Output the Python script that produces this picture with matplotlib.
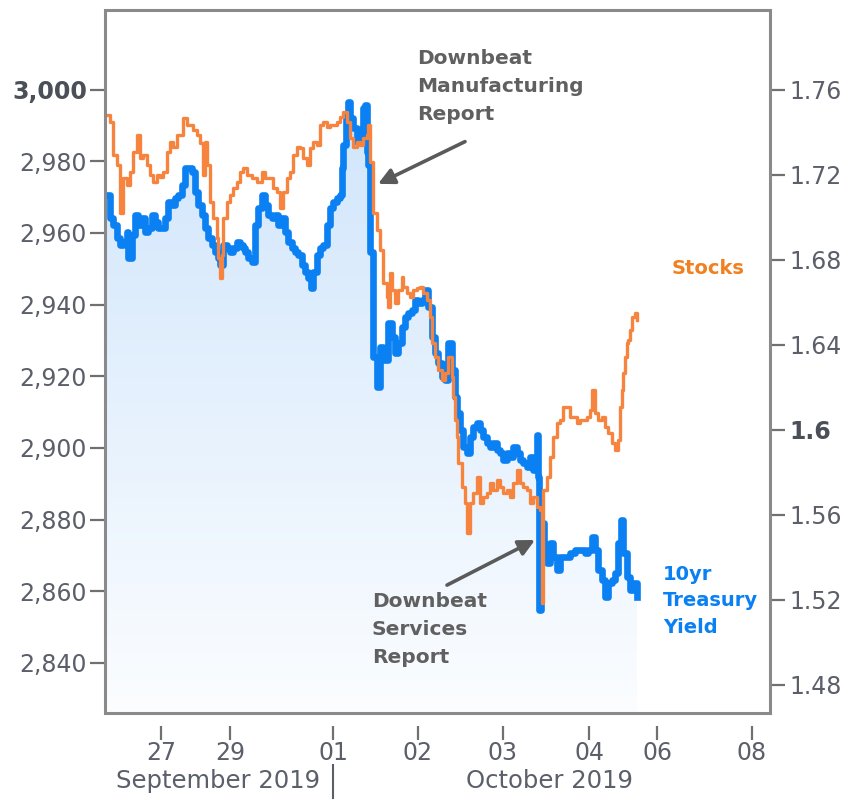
import numpy as np
import matplotlib
matplotlib.use("Agg")
import matplotlib.pyplot as plt
from matplotlib import font_manager
from matplotlib.patches import Rectangle
from matplotlib.lines import Line2D

# time axis in chart units (weekends squeezed out like the original)
tick_pos = [5.6, 12.5, 22.8, 31.3, 39.8, 48.4, 55.2, 64.7]
tick_labels = ['27', '29', '01', '02', '03', '04', '06', '08']

# S&P 500 (left axis)
stocks_t = [0.17, 0.5, 0.83, 1.17, 1.5, 1.83, 2.17, 2.5, 2.83, 3.17, 3.5, 3.83, 4.17, 4.5, 4.83,
            5.17, 5.5, 5.83, 6.17, 6.5, 6.83, 7.17, 7.5, 7.83, 8.17, 8.5, 8.83, 9.17, 9.5, 9.83,
            10.0, 10.17, 10.5, 10.83, 11.17, 11.33, 11.5, 11.67, 11.83, 12.17, 12.5, 12.83, 13.17,
            13.5, 13.83, 14.17, 14.67, 15.17, 15.67, 16.0, 16.5, 16.83, 17.17, 17.5, 17.83, 18.17,
            18.5, 18.83, 19.17, 19.5, 19.83, 20.17, 20.5, 20.83, 21.17, 21.5, 21.83, 22.17, 22.5,
            22.83, 23.17, 23.5, 23.83, 24.17, 24.5, 24.83, 25.17, 25.5, 25.83, 26.17, 26.33, 26.5,
            26.83, 27.17, 27.5, 27.83, 28.17, 28.33, 28.5, 28.67, 29.0, 29.33, 29.67, 29.83, 30.17,
            30.5, 30.83, 31.17, 31.5, 31.83, 32.17, 32.5, 32.67, 33.0, 33.33, 33.67, 34.0, 34.33,
            34.67, 34.83, 35.0, 35.17, 35.33, 35.67, 36.0, 36.23, 36.5, 36.83, 37.17, 37.5, 37.83,
            38.17, 38.5, 38.83, 39.17, 39.5, 39.83, 40.17, 40.5, 40.83, 41.17, 41.5, 41.83, 42.17,
            42.5, 42.83, 43.17, 43.5, 43.67, 43.83, 44.17, 44.5, 44.83, 45.17, 45.5, 45.83, 46.17,
            46.5, 46.83, 47.17, 47.5, 47.83, 48.17, 48.5, 48.73, 49.0, 49.33, 49.67, 50.0, 50.33,
            50.67, 51.0, 51.33, 51.5, 51.67, 51.83, 52.0, 52.17, 52.33, 52.5, 52.67, 53.0, 53.17]
stocks = [2993.0, 2991.1, 2981.8, 2979.1, 2965.6, 2975.4, 2973.5, 2977.1, 2982.7, 2987.4, 2981.0,
          2981.8, 2979.1, 2976.3, 2974.3, 2976.3, 2975.7, 2977.1, 2982.7, 2985.5, 2984.1, 2987.4,
          2987.4, 2992.2, 2990.2, 2990.2, 2988.8, 2987.4, 2985.2, 2976.3, 2985.5, 2979.1, 2968.7,
          2964.3, 2958.7, 2953.1, 2947.5, 2953.9, 2964.3, 2968.7, 2970.7, 2972.6, 2974.3, 2977.1,
          2978.2, 2976.3, 2975.4, 2974.3, 2977.1, 2975.4, 2975.4, 2972.6, 2971.5, 2967.0, 2971.5,
          2975.4, 2977.1, 2981.8, 2984.1, 2983.8, 2981.0, 2979.1, 2983.8, 2985.5, 2984.6, 2990.2,
          2991.1, 2989.7, 2990.2, 2990.2, 2991.1, 2992.5, 2993.9, 2991.1, 2986.6, 2984.1, 2985.5,
          2984.6, 2986.6, 2987.4, 2990.2, 2979.9, 2965.6, 2960.9, 2955.3, 2946.1, 2942.2, 2939.4,
          2948.9, 2944.1, 2940.5, 2944.1, 2947.8, 2945.0, 2943.3, 2942.2, 2944.1, 2944.7, 2945.0,
          2943.3, 2941.3, 2936.6, 2929.3, 2925.4, 2921.8, 2919.0, 2921.0, 2925.4, 2919.8, 2914.3,
          2907.8, 2903.1, 2895.8, 2889.1, 2884.6, 2876.3, 2884.6, 2887.4, 2891.9, 2884.6, 2886.3,
          2887.4, 2890.2, 2888.3, 2891.1, 2889.1, 2887.4, 2888.3, 2886.3, 2890.2, 2893.9, 2890.2,
          2889.1, 2888.3, 2884.6, 2886.3, 2883.5, 2882.7, 2856.7, 2888.3, 2891.9, 2897.5, 2903.1,
          2907.0, 2907.8, 2911.5, 2911.5, 2908.7, 2908.7, 2907.0, 2907.8, 2907.8, 2908.7, 2910.6,
          2916.2, 2909.8, 2907.8, 2908.7, 2905.9, 2904.2, 2901.4, 2899.5, 2902.2, 2911.5, 2916.2,
          2921.0, 2925.4, 2929.3, 2930.2, 2933.0, 2936.6, 2937.7, 2935.8]

# 10yr treasury yield (right axis)
yield_t = [0.17, 0.5, 0.83, 1.17, 1.5, 1.83, 2.17, 2.33, 2.67, 3.0, 3.33, 3.67, 4.0, 4.33, 4.67,
           5.0, 5.33, 5.67, 6.0, 6.33, 6.67, 7.0, 7.33, 7.67, 8.0, 8.33, 8.67, 9.0, 9.33, 9.67,
           10.0, 10.33, 10.67, 11.0, 11.33, 11.5, 11.83, 12.17, 12.5, 12.83, 13.17, 13.5, 13.83,
           14.0, 14.33, 14.67, 15.0, 15.33, 15.67, 16.0, 16.33, 16.67, 17.0, 17.33, 17.67, 18.0,
           18.33, 18.67, 19.0, 19.33, 19.67, 20.0, 20.33, 20.57, 20.83, 21.17, 21.5, 21.83, 22.17,
           22.5, 22.83, 23.17, 23.5, 23.67, 23.83, 24.1, 24.27, 24.5, 24.83, 25.17, 25.5, 25.77,
           26.0, 26.17, 26.33, 26.5, 26.83, 27.17, 27.5, 27.83, 28.33, 28.67, 29.0, 29.33, 29.67,
           30.0, 30.33, 30.67, 31.0, 31.33, 31.67, 32.0, 32.33, 32.67, 33.0, 33.33, 33.67, 34.0,
           34.33, 34.67, 35.0, 35.17, 35.5, 35.83, 36.17, 36.5, 36.83, 37.17, 37.5, 37.83, 38.17,
           38.5, 38.83, 39.17, 39.5, 39.83, 40.17, 40.5, 40.83, 41.17, 41.5, 41.83, 42.17, 42.5,
           42.83, 43.17, 43.33, 43.43, 43.6, 43.93, 44.17, 44.5, 44.83, 45.17, 45.5, 46.0, 46.5,
           47.0, 47.5, 48.0, 48.33, 48.67, 49.0, 49.33, 49.67, 50.0, 50.33, 50.67, 51.0, 51.33,
           51.57, 51.83, 52.17, 52.5, 52.83, 53.17]
yields = [1.7106, 1.6998, 1.6965, 1.6904, 1.6871, 1.6885, 1.6932, 1.6809, 1.6918, 1.7012, 1.6965,
          1.6998, 1.6932, 1.6951, 1.7012, 1.6979, 1.6951, 1.6951, 1.6998, 1.7073, 1.7059, 1.7092,
          1.7106, 1.7153, 1.7233, 1.7233, 1.7214, 1.7120, 1.7059, 1.7012, 1.6951, 1.6904, 1.6871,
          1.6838, 1.6809, 1.6776, 1.6871, 1.6856, 1.6838, 1.6856, 1.6885, 1.6871, 1.6856, 1.6838,
          1.6809, 1.6791, 1.6965, 1.7045, 1.7106, 1.7059, 1.7012, 1.6998, 1.7012, 1.6965, 1.6998,
          1.6932, 1.6885, 1.6856, 1.6838, 1.6824, 1.6776, 1.6744, 1.6715, 1.6668, 1.6744, 1.6824,
          1.6856, 1.6871, 1.6965, 1.7045, 1.7073, 1.7092, 1.7106, 1.7233, 1.7341, 1.7482, 1.7544,
          1.7468, 1.7421, 1.7355, 1.7388, 1.7515, 1.7529, 1.7308, 1.7247, 1.6838, 1.6344, 1.6202,
          1.6391, 1.6329, 1.6504, 1.6438, 1.6362, 1.6409, 1.6485, 1.6532, 1.6551, 1.6565, 1.6612,
          1.6598, 1.6612, 1.6659, 1.6579, 1.6438, 1.6362, 1.6315, 1.6249, 1.6235, 1.6409, 1.6282,
          1.6155, 1.6080, 1.6000, 1.5920, 1.5892, 1.5967, 1.6014, 1.6033, 1.6000, 1.5967, 1.5939,
          1.5920, 1.5939, 1.5906, 1.5892, 1.5859, 1.5892, 1.5873, 1.5920, 1.5892, 1.5859, 1.5845,
          1.5826, 1.5873, 1.5812, 1.5976, 1.5779, 1.5153, 1.5562, 1.5435, 1.5374, 1.5468, 1.5402,
          1.5341, 1.5402, 1.5402, 1.5421, 1.5435, 1.5435, 1.5421, 1.5435, 1.5497, 1.5435, 1.5341,
          1.5294, 1.5214, 1.5280, 1.5294, 1.5327, 1.5468, 1.5576, 1.5421, 1.5308, 1.5247, 1.5280,
          1.5214]

left_ticks = [2840, 2860, 2880, 2900, 2920, 2940, 2960, 2980, 3000]
left_labels = ['2,840', '2,860', '2,880', '2,900', '2,920', '2,940', '2,960', '2,980', '3,000']
right_ticks = [1.48, 1.52, 1.56, 1.60, 1.64, 1.68, 1.72, 1.76]
right_labels = ['1.48', '1.52', '1.56', '1.6', '1.64', '1.68', '1.72', '1.76']

ORANGE = '#f7843e'
BLUE = '#0a80f2'
GREY_TXT = '#5a5f6a'
FRAME = '#8a8a8a'

names = {f.name for f in font_manager.fontManager.ttflist}
if 'Liberation Sans Narrow' in names:
    narrow, tick_size, month_size = 'Liberation Sans Narrow', 23, 23
else:
    narrow, tick_size, month_size = 'DejaVu Sans', 17, 17.5

fig = plt.figure(figsize=(8.5, 8), dpi=100)
fig.patch.set_facecolor('white')
ax = fig.add_axes([0.1235, 0.10875, 0.7824, 0.879])
ax2 = ax.twinx()

xlim = (0, 66.5)
ylim_left = (2826.0, 3022.3)
ylim_right = (1.4668, 1.7976)

# gradient fill under the yield line
top_c = np.array([0.79, 0.885, 0.985])
bot_c = np.array([0.985, 0.992, 1.0])
g = np.linspace(0, 1, 256)[:, None, None]
grad = top_c * (1 - g) + bot_c * g
im = ax2.imshow(grad, extent=[xlim[0], xlim[1], ylim_right[0], ylim_right[1]],
                aspect='auto', origin='upper', zorder=1)
poly = ax2.fill_between(yield_t, yields, ylim_right[0], step='post',
                        facecolor='none', edgecolor='none')
im.set_clip_path(poly.get_paths()[0], transform=ax2.transData)

ax2.plot(yield_t, yields, color=BLUE, lw=4.8, drawstyle='steps-post', zorder=3)
ax.plot(stocks_t, stocks, color=ORANGE, lw=2.4, drawstyle='steps-post', zorder=3)

ax.set_zorder(ax2.get_zorder() + 1)
ax.patch.set_visible(False)

ax.set_xlim(*xlim)
ax.set_ylim(*ylim_left)
ax2.set_ylim(*ylim_right)

for a in (ax, ax2):
    for s in a.spines.values():
        s.set_visible(False)
ax.spines['bottom'].set_position(('outward', 9))
ax.add_patch(Rectangle((0, 0), 1, 1, transform=ax.transAxes, fill=False,
                       edgecolor=FRAME, lw=2.2, zorder=10, clip_on=False))

ax.set_yticks(left_ticks)
ax.set_yticklabels(left_labels)
ax2.set_yticks(right_ticks)
ax2.set_yticklabels(right_labels)
ax.set_xticks(tick_pos)
ax.set_xticklabels(tick_labels, fontfamily=narrow, fontsize=tick_size)

ax.tick_params(axis='y', direction='out', length=11, width=1.6, color='#707070',
               labelsize=17, labelcolor=GREY_TXT, pad=2)
ax2.tick_params(axis='y', direction='out', length=11, width=1.6, color='#707070',
                labelsize=17, labelcolor=GREY_TXT, pad=3)
ax.tick_params(axis='x', direction='out', length=10, width=1.6, color='#707070',
               labelcolor=GREY_TXT, pad=1)

for lab in ax.get_yticklabels() + ax2.get_yticklabels():
    if lab.get_text() in ('3,000', '1.6'):
        lab.set_fontweight('bold')
        lab.set_color('#4a4f58')

# annotations
ann = dict(fontsize=14.5, fontweight='bold', color='#606060', ha='left', va='center',
           linespacing=1.6)
ax.text(31.2, 3000.8, 'Downbeat\nManufacturing\nReport', **ann)
ax.text(26.7, 2849.2, 'Downbeat\nServices\nReport', **ann)
arrow = dict(arrowstyle='-|>', color='#5a5a5a', lw=2.6, mutation_scale=24, shrinkA=0, shrinkB=0)
ax.annotate('', xy=(27.3, 2973.7), xytext=(36.0, 2985.5), arrowprops=arrow, zorder=6)
ax.annotate('', xy=(43.0, 2874.3), xytext=(34.2, 2861.7), arrowprops=arrow, zorder=6)

ax.text(60.3, 2950.0, 'Stocks', fontsize=14, fontweight='bold', color='#f08020',
        ha='center', va='center')
ax.text(55.8, 2857.3, '10yr\nTreasury\nYield', fontsize=14, fontweight='bold', color=BLUE,
        ha='left', va='center', linespacing=1.5)

# month labels under the axis
fig.text(218 / 850, 1 - 781 / 800, 'September 2019', fontfamily=narrow, fontsize=month_size,
         color=GREY_TXT, ha='center', va='center')
fig.text(550 / 850, 1 - 781 / 800, 'October 2019', fontfamily=narrow, fontsize=month_size,
         color=GREY_TXT, ha='center', va='center')
fig.add_artist(Line2D([333 / 850, 333 / 850], [1 - 765 / 800, 1 - 798 / 800],
                      color=GREY_TXT, lw=1.5))

fig.savefig('out.png', dpi=100)
